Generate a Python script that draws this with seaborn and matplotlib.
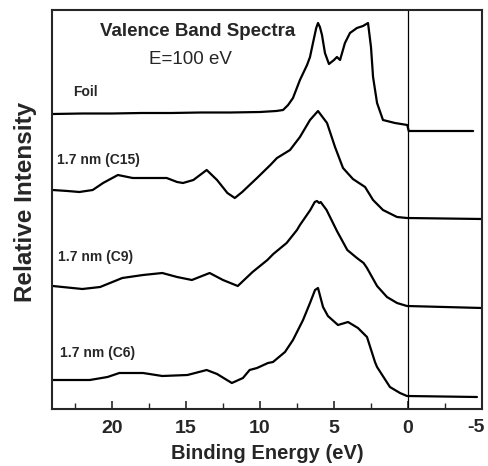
import pandas as pd
import matplotlib.pyplot as plt
import seaborn as sns
from matplotlib.ticker import MultipleLocator

# Espectros de banda de valencia.
# Energia de enlace (eV) e intensidad relativa, cada curva respecto a su linea base.
foil_be = [24.0, 22.0, 20.0, 18.0, 16.0, 14.0, 12.0, 10.0, 8.9, 8.44, 8.1, 7.77, 7.30, 6.82,
           6.62, 6.42, 6.2, 6.08, 5.95, 5.81, 5.61, 5.34, 5.0, 4.80, 4.59, 4.26, 3.92, 3.45,
           3.04, 2.70, 2.50, 2.36, 2.09, 1.69, 0.88, 0.05, -0.05, -4.4]
foil_int = [0, 0.5, 0.5, 1, 1, 1.5, 1.5, 2, 3, 4, 9, 16, 34, 49,
            57, 71, 86, 91, 87, 79, 61, 50, 54, 57, 54, 71, 81, 86,
            88, 91, 67, 37, 11, -6, -9, -11, -17, -17]

c15_be = [24.0, 23.0, 22.2, 21.3, 20.6, 19.6, 18.6, 17.4, 16.3, 15.6, 15.2, 14.5, 13.6, 12.9,
          12.2, 11.7, 11.2, 10.2, 9.3, 8.85, 7.97, 7.30, 6.62, 6.08, 5.47, 4.93, 4.39, 3.72,
          2.90, 2.36, 1.69, 0.74, 0.07, -5.0]
c15_int = [0, -1, -2, 0, 7, 15, 12, 12, 12, 8, 7, 10, 20, 10,
           -3, -8, -2, 12, 25, 32, 40, 53, 70, 79, 67, 43, 22, 11,
           3, -10, -20, -27, -28, -29]

c9_be = [24.0, 22.0, 20.8, 19.3, 17.9, 16.6, 15.6, 14.6, 13.4, 12.5, 11.5, 10.5, 9.5, 9.1,
         8.2, 7.5, 7.3, 6.6, 6.3, 6.15, 6.0, 5.9, 5.5, 4.8, 4.1, 3.45, 3.0, 2.77, 2.09, 1.42,
         0.74, 0.07, -5.0]
c9_int = [0, -3, -1, 8, 11, 13, 9, 6, 13, 6, 0, 14, 26, 32,
          43, 56, 61, 76, 84, 85, 83, 84, 76, 55, 36, 28, 23, 18, 0, -11,
          -17, -20, -22]

c6_be = [24.0, 21.5, 20.3, 19.5, 17.9, 16.6, 14.9, 13.6, 12.9, 11.9, 11.15, 10.7, 10.2, 9.46,
         9.12, 8.31, 7.77, 7.09, 6.62, 6.28, 6.08, 5.74, 5.41, 4.73, 4.05, 3.38, 2.77, 2.23,
         2.09, 1.22, 0.54, 0.07, -4.66]
c6_int = [0, 0, 3, 7, 7, 4, 5, 10, 6, -3, 2, 10, 12, 17,
          18, 28, 40, 60, 77, 90, 92, 73, 64, 55, 58, 52, 43, 18,
          13, -7, -13, -16, -17]

etiquetas = ["Foil", "1.7 nm (C15)", "1.7 nm (C9)", "1.7 nm (C6)"]
desplazamientos = [295, 219, 123, 29]

ticks_x = [20, 15, 10, 5, 0, -5]
ticks_txt = ["20", "15", "10", "5", "0", "-5"]

curvas = [(foil_be, foil_int), (c15_be, c15_int), (c9_be, c9_int), (c6_be, c6_int)]

# Tabla larga para seaborn
filas = []
for nombre, (be, inten), off in zip(etiquetas, curvas, desplazamientos):
    for e, i in zip(be, inten):
        filas.append({"muestra": nombre, "BE": e, "I": i + off})
df = pd.DataFrame(filas)

sns.set_style("ticks")
plt.rcParams['font.family'] = ['Liberation Sans', 'DejaVu Sans']
plt.rcParams['axes.unicode_minus'] = False

fig = plt.figure(figsize=(4.88, 4.66), dpi=100)
ax = fig.add_axes([52 / 488, 57 / 466, 430 / 488, 399 / 466])

for nombre in etiquetas:
    sns.lineplot(data=df[df["muestra"] == nombre], x="BE", y="I", sort=False,
                 color="black", linewidth=1.6, ax=ax)

# linea vertical en el nivel de Fermi
ax.axvline(0, color="black", linewidth=0.9)

ax.set_xlim(24.05, -5)
ax.set_ylim(0, 399)
ax.set_yticks([])
# la ultima etiqueta (-5) va aparte para que no se corte en el borde
ax.set_xticks(ticks_x, labels=ticks_txt[:-1] + [""])
ax.xaxis.set_minor_locator(MultipleLocator(2.5))
ax.tick_params(axis="x", which="major", direction="in", length=6, width=1.2,
               labelsize=14, pad=8)
ax.tick_params(axis="x", which="minor", direction="in", length=4, width=1.0)
for lbl in ax.get_xticklabels():
    lbl.set_fontweight("bold")
ax.text(ticks_x[-1] - 0.2, -0.0476, ticks_txt[-1], transform=ax.get_xaxis_transform(),
        fontsize=14, fontweight="bold", ha="right", va="center")
for sp in ax.spines.values():
    sp.set_visible(True)
    sp.set_linewidth(1.5)

ax.set_xlabel("Binding Energy (eV)", fontsize=14.5, fontweight="bold", labelpad=5)
ax.set_ylabel("Relative Intensity", fontsize=17.5, fontweight="bold")
ax.yaxis.set_label_coords(-0.035, 0.519)

# textos
ax.text(14.2, 377, "Valence Band Spectra", fontsize=13.5, fontweight="bold",
        ha="center", va="center")
ax.text(14.7, 349, "E=100 eV", fontsize=13.5, ha="center", va="center")
pos_etiquetas = [(22.6, 317), (23.7, 249), (23.65, 152), (23.5, 56)]
for nombre, (px, py) in zip(etiquetas, pos_etiquetas):
    ax.text(px, py, nombre, fontsize=10, fontweight="bold", ha="left", va="center")

fig.savefig("out.png", dpi=100)
